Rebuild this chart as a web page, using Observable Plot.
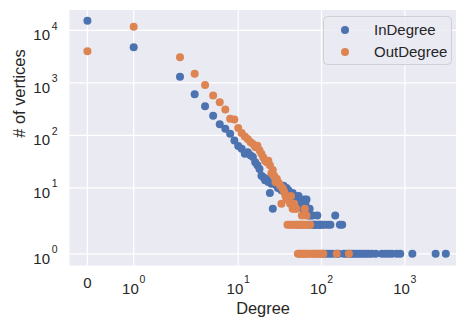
<!DOCTYPE html>
<html><head><meta charset="utf-8">
<script src="https://cdn.jsdelivr.net/npm/d3@7"></script>
<script src="https://cdn.jsdelivr.net/npm/@observablehq/plot@0.6"></script>
<style>
body{margin:0;background:#fff;}
#wrap{position:relative;width:456px;height:320px;overflow:hidden;}
</style></head>
<body><div id="wrap"></div>
<script>
// [degree, number of vertices]
const inDegree = [[0,15300],[1,4800],[2,1310],[3,610],[4,362],[5,238],[6,164],[7,134],[8,108],[9,80],[10,63],[11,56],[12,45],[13,48],[14,42],[15,39],[16,31],[17,27],[18,23],[19,17],[20,16],[21,14],[22,15],[23,13],[24,8],[25,12],[26,4],[27,12],[28,13],[29,11],[30,10],[31,10],[32,11],[33,9],[34,10],[35,11],[36,9],[37,8],[38,10],[39,8],[40,9],[41,7],[42,8],[43,7],[44,6],[45,8],[46,7],[47,6],[48,7],[49,5],[50,6],[52,5],[53,7],[55,6],[56,5],[58,5],[60,4],[62,6],[64,5],[66,6],[68,4],[70,3],[72,4],[74,3],[76,2],[78,3],[80,2],[83,2],[86,2],[89,3],[92,2],[95,2],[98,2],[102,2],[106,1],[110,2],[115,1],[120,2],[125,1],[128,2],[135,1],[146,3],[150,1],[160,1],[166,2],[177,2],[185,1],[200,1],[215,1],[230,1],[245,1],[260,1],[280,1],[300,1],[320,1],[345,1],[370,1],[400,1],[446,1],[530,1],[585,1],[640,1],[700,1],[800,1],[880,1],[1230,1],[2340,1],[3100,1]];
const outDegree = [[0,4000],[1,11800],[2,3100],[3,1500],[4,910],[5,580],[6,430],[7,313],[8,208],[9,202],[10,138],[11,111],[12,96],[13,86],[14,75],[15,69],[16,60],[17,64],[18,52],[19,45],[20,38],[21,33],[22,31],[23,33],[24,27],[25,19],[26,22],[27,17],[28,13],[29,15],[30,13],[31,12],[32,11],[33,5],[34,10],[35,9],[36,8],[37,7],[38,6],[39,2],[40,6],[41,2],[42,5],[43,7],[44,2],[45,4],[46,2],[47,5],[48,4],[49,2],[50,4],[51,2],[52,1],[53,2],[54,1],[55,2],[56,1],[57,2],[58,3],[59,1],[60,2],[61,1],[62,2],[63,4],[64,1],[65,2],[66,3],[67,1],[68,2],[70,1],[71,2],[73,2],[76,1],[79,1],[82,1],[86,1],[90,1],[94,1],[98,1],[102,1],[105,1],[152,1],[213,1]];
const seriesNames = ["InDegree", "OutDegree"];
const seriesColors = ["#4c72b0", "#dd8452"];
const xTicks = [0, 1, 10, 100, 1000];
const xTickBase = ["0", "10", "10", "10", "10"];
const xTickExp = ["", "0", "1", "2", "3"];
const yTicks = [1, 10, 100, 1000, 10000];
const yTickExp = ["0", "1", "2", "3", "4"];
const xLabel = "Degree";
const yLabel = "# of vertices";

// matplotlib-style symlog (linthresh 2, linscale 1, base 10)
const LT = 2, LA = 1 / (1 - 1 / 10);
function sym(v) { return v <= LT ? v * LA / LT : LA + Math.log10(v / LT); }

const FONT = '"Liberation Sans", Arial, sans-serif';
const TXT = "#262626";
const inRows = inDegree.map(([d, c]) => ({d, c}));
const outRows = outDegree.map(([d, c]) => ({d, c}));
const xt = xTicks.map((v, i) => ({v, base: xTickBase[i], exp: xTickExp[i]}));
const yt = yTicks.map((v, i) => ({v, exp: yTickExp[i]}));

const chart = Plot.plot({
  width: 456, height: 320,
  marginLeft: 69, marginRight: 0, marginTop: 9.5, marginBottom: 55,
  style: {fontFamily: FONT, color: TXT, background: "white"},
  x: {type: "linear", domain: [-0.215, 4.43], axis: null},
  y: {type: "linear", domain: [0.333, 5.2], axis: null},
  marks: [
    Plot.frame({fill: "#eaeaf2", stroke: "none"}),
    Plot.ruleX(xTicks, {x: d => sym(d), stroke: "white", strokeWidth: 1.2}),
    Plot.ruleY(yTicks, {y: d => sym(d), stroke: "white", strokeWidth: 1.2}),
    Plot.dot(inRows, {x: d => sym(d.d), y: d => sym(d.c), r: 4, fill: seriesColors[0], stroke: "none"}),
    Plot.dot(outRows, {x: d => sym(d.d), y: d => sym(d.c), r: 4, fill: seriesColors[1], stroke: "none"}),
    // x tick labels
    Plot.text(xt.filter(d => !d.exp), {x: d => sym(d.v), text: "base", frameAnchor: "bottom", dy: 22.7, lineAnchor: "bottom", fontSize: 15, fill: TXT}),
    Plot.text(xt.filter(d => d.exp), {x: d => sym(d.v), text: "base", frameAnchor: "bottom", dx: -3.3, dy: 28.3, lineAnchor: "bottom", fontSize: 15, fill: TXT}),
    Plot.text(xt.filter(d => d.exp), {x: d => sym(d.v), text: "exp", frameAnchor: "bottom", dx: 8.6, dy: 17, lineAnchor: "bottom", fontSize: 10.5, fill: TXT}),
    // y tick labels
    Plot.text(yt, {y: d => sym(d.v), text: () => "10", frameAnchor: "left", textAnchor: "end", dx: -19.5, dy: 10, lineAnchor: "bottom", fontSize: 15, fill: TXT}),
    Plot.text(yt, {y: d => sym(d.v), text: "exp", frameAnchor: "left", textAnchor: "end", dx: -11.8, dy: -0.8, lineAnchor: "bottom", fontSize: 10.5, fill: TXT}),
    // axis labels
    Plot.text([xLabel], {text: d => d, frameAnchor: "bottom", dy: 48.4, lineAnchor: "bottom", fontSize: 16.4, fill: TXT}),
    Plot.text([yLabel], {text: d => d, frameAnchor: "left", dx: -50, rotate: -90, lineAnchor: "middle", fontSize: 16.4, fill: TXT})
  ]
});
const wrap = document.getElementById("wrap");
wrap.appendChild(chart);

// legend overlay
const ns = "http://www.w3.org/2000/svg";
const lg = document.createElementNS(ns, "svg");
lg.setAttribute("width", 456); lg.setAttribute("height", 320);
lg.style.position = "absolute"; lg.style.left = "0"; lg.style.top = "0";
const box = document.createElementNS(ns, "rect");
box.setAttribute("x", 323.5); box.setAttribute("y", 16.5);
box.setAttribute("width", 128); box.setAttribute("height", 48);
box.setAttribute("rx", 4);
box.setAttribute("fill", "rgba(234,234,242,0.8)");
box.setAttribute("stroke", "#cfcfd6"); box.setAttribute("stroke-width", 1);
lg.appendChild(box);
seriesNames.forEach((name, i) => {
  const cy = 30 + i * 22;
  const c = document.createElementNS(ns, "circle");
  c.setAttribute("cx", 345); c.setAttribute("cy", cy); c.setAttribute("r", 4);
  c.setAttribute("fill", seriesColors[i]);
  lg.appendChild(c);
  const t = document.createElementNS(ns, "text");
  t.setAttribute("x", 374); t.setAttribute("y", cy + 5.3);
  t.setAttribute("font-family", FONT); t.setAttribute("font-size", 15);
  t.setAttribute("fill", TXT);
  t.textContent = name;
  lg.appendChild(t);
});
wrap.appendChild(lg);
</script>
</body></html>
